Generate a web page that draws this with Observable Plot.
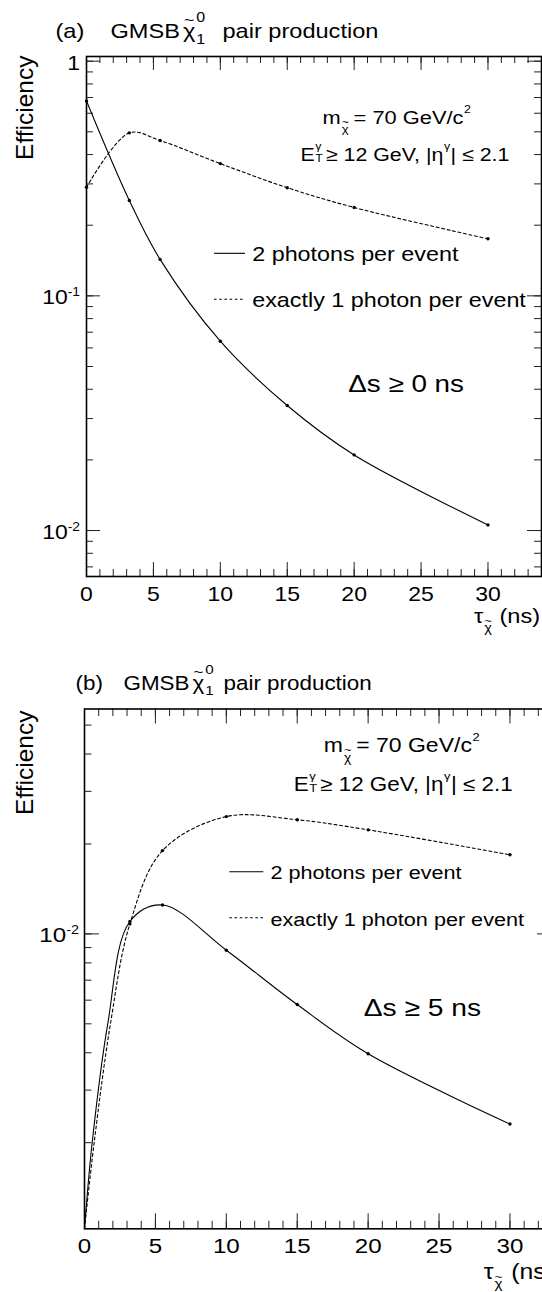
<!DOCTYPE html>
<html><head><meta charset="utf-8">
<script src="https://cdn.jsdelivr.net/npm/d3@7"></script>
<script src="https://cdn.jsdelivr.net/npm/@observablehq/plot@0.6"></script>
<style>
html,body{margin:0;padding:0;background:#fff;overflow:hidden;}
#wrap{width:542px;overflow:hidden;}
#wrap svg{display:block;max-width:none !important;}
</style></head><body><div id="wrap"></div>
<script>
// ---- data ----
const tau = [0, 3.2, 5.5, 10, 15, 20, 30];               // neutralino lifetime (ns)
const twoPhotonA = [0.677, 0.255, 0.143, 0.0641, 0.0341, 0.0210, 0.01057];
const onePhotonA = [0.290, 0.495, 0.459, 0.366, 0.289, 0.238, 0.175];
const twoPhotonB = [0.00103, 0.0110, 0.0125, 0.00882, 0.00580, 0.00397, 0.00231];
const onePhotonB = [0.00103, 0.0108, 0.0190, 0.0247, 0.0241, 0.0223, 0.0184];
// points read along the steep rise of the (b) curves near tau = 0 (no markers there)
const tauRiseTwoB = [0.54, 1.64];
const effRiseTwoB = [0.002, 0.005];
const tauRiseOneB = [0.68, 1.83];
const effRiseOneB = [0.002, 0.005];
const xMajorTicks = [0, 5, 10, 15, 20, 25, 30];
const xTickLabels = ["0", "5", "10", "15", "20", "25", "30"];
const yMajorTicks = [1, 0.1, 0.01];
const yTickBase = ["1", "10", "10"];
const yTickExp = ["", "-1", "-2"];
const legendLabels = ["2 photons per event", "exactly 1 photon per event"];

const FONT = '"Liberation Sans", Arial, Helvetica, sans-serif';
const S = 1.15; // horizontal stretch of the reference's lettering
const ctx = document.createElement("canvas").getContext("2d");
function tw(t, fs) { ctx.font = `${fs}px ${FONT}`; return ctx.measureText(t).width; }

function textAt(P, x, baseline, t, fs, anchor = "start", extra = {}) {
  return Plot.text([t], {text: d => d, frameAnchor: "top-left", dx: x - P.ml, dy: baseline - 0.71 * fs - P.mt,
    fontSize: fs, textAnchor: anchor, lineAnchor: "top", fill: "#000", ...extra});
}
function rich(P, x0, base, pieces) {
  const marks = [];
  let x = x0, prev = null;
  for (const p of pieces) {
    const lead = p.t.match(/^ */)[0];
    const t = p.t.trim();
    const w = tw(t, p.fs) * S;
    if (p.over) {
      marks.push(textAt(P, prev.x + prev.w / 2 + (p.dx || 0), base + (p.dy || 0), t, p.fs, "middle"));
      continue;
    }
    let px = (p.x != null ? p.x : x) + tw(lead, p.fs) * S + (p.dx || 0);
    marks.push(textAt(P, px, base + (p.dy || 0), t, p.fs, "start"));
    prev = {x: px, w};
    if (!p.noAdv) x = px + w;
  }
  return marks;
}
const seg = (x1, x2, y, dash) => () => d3.create("svg:line")
  .attr("x1", x1).attr("x2", x2).attr("y1", y).attr("y2", y)
  .attr("stroke", "#000").attr("stroke-width", 1.1)
  .attr("stroke-dasharray", dash || null).node();

function panel(P) {
  const fw = P.width - P.ml - P.mr, fh = P.height - P.mt - P.mb;
  const [y0, y1] = P.yDomain;
  const xMinor = d3.range(0, P.xDomain[1] + 0.001, 1);
  const yMinor = [];
  for (let e = -4; e <= 0; e++) for (let k = 1; k < 10; k++) {
    const v = k * Math.pow(10, e);
    if (v >= y0 && v <= y1) yMinor.push(v);
  }
  const yMaj = yMajorTicks.map((v, i) => ({v, i})).filter(d => d.v >= y0 && d.v <= y1);
  const rows = vals => tau.map((t, i) => ({tau: t, eff: vals[i]}));
  const two = rows(P.two), one = rows(P.one);
  const withRise = (r, ts, es) => r.concat(ts.map((t, i) => ({tau: t, eff: es[i]}))).sort((a, b) => a.tau - b.tau);
  const twoCurve = withRise(two, P.riseTwo[0], P.riseTwo[1]);
  const oneCurve = withRise(one, P.riseOne[0], P.riseOne[1]);
  const marks = [
    // ticks (inside the frame, on all four sides)
    Plot.ruleX(xMinor, {x: d => d, insetTop: fh - P.minor, stroke: "#222", strokeWidth: 1}),
    Plot.ruleX(xMajorTicks, {x: d => d, insetTop: fh - P.major, stroke: "#222", strokeWidth: 1}),
    Plot.ruleX(xMinor, {x: d => d, insetBottom: fh - P.minor, stroke: "#222", strokeWidth: 1}),
    Plot.ruleX(xMajorTicks, {x: d => d, insetBottom: fh - P.major, stroke: "#222", strokeWidth: 1}),
    Plot.ruleY(yMinor, {y: d => d, insetRight: fw - P.minor, stroke: "#222", strokeWidth: 1}),
    Plot.ruleY(yMaj, {y: "v", insetRight: fw - P.major, stroke: "#222", strokeWidth: 1}),
    Plot.ruleY(yMinor, {y: d => d, insetLeft: fw - P.minor, stroke: "#222", strokeWidth: 1}),
    Plot.ruleY(yMaj, {y: "v", insetLeft: fw - P.major, stroke: "#222", strokeWidth: 1}),
    // curves
    Plot.line(twoCurve, {x: "tau", y: "eff", curve: "catmull-rom", stroke: "#000", strokeWidth: 1.1, clip: true}),
    Plot.line(oneCurve, {x: "tau", y: "eff", curve: "catmull-rom", stroke: "#000", strokeWidth: 1.1, strokeDasharray: "3,2.6", clip: true}),
    Plot.dot(two.filter(d => d.eff > y0 * 1.05), {x: "tau", y: "eff", r: 1.7, fill: "#000", stroke: null}),
    Plot.dot(one.filter(d => d.eff > y0 * 1.05), {x: "tau", y: "eff", r: 1.7, fill: "#000", stroke: null}),
    Plot.frame({stroke: "#000", strokeWidth: 1.6}),
    // x tick labels
    Plot.text(xMajorTicks, {x: d => d, text: (d, i) => xTickLabels[i], frameAnchor: "bottom",
      dy: P.xLabBase - 0.71 * P.tickFs, lineAnchor: "top", textAnchor: "middle", fontSize: P.tickFs, fill: "#000"}),
  ];
  // y tick labels (10 with superscript exponent)
  for (const d of yMaj) {
    const exp = yTickExp[d.i], base = yTickBase[d.i];
    const ew = exp ? tw(exp, P.expFs) * S : 0;
    marks.push(Plot.text([d.v], {y: d => d, text: () => base, frameAnchor: "left", dx: P.yLabRight - ew - P.ml,
      dy: (exp ? 8.3 : 9) - 0.71 * P.tickFs, lineAnchor: "top", textAnchor: "end", fontSize: P.tickFs, fill: "#000"}));
    if (exp) marks.push(Plot.text([d.v], {y: d => d, text: () => exp, frameAnchor: "left", dx: P.yLabRight - ew - P.ml,
      dy: 0 - 0.71 * P.expFs, lineAnchor: "top", textAnchor: "start", fontSize: P.expFs, fill: "#000"}));
  }
  // axis titles
  marks.push(Plot.text(["Efficiency"], {text: d => d, frameAnchor: "top-left", rotate: -90, textAnchor: "end",
    lineAnchor: "top", dx: 15 - P.ml, dy: P.yTitleTop - P.mt, fontSize: P.yTitleFs, fill: "#000"}));
  marks.push(...rich(P, P.xt.x, P.xt.base, [
    {t: "τ", fs: P.xt.fs},
    {t: "χ", fs: P.xt.fs * 0.62, dy: P.xt.fs * 0.45, dx: 1},
    {t: "~", fs: P.xt.fs * 0.55, over: true, dy: P.xt.fs * 0.12},
    {t: "(ns)", fs: P.xt.fs, x: P.xt.nsX}
  ]));
  // title
  const T = P.title;
  marks.push(...rich(P, T.x, T.base, [
    {t: T.tag, fs: T.fs},
    {t: "GMSB", fs: T.fs, x: T.gmsbX},
    {t: "χ", fs: T.fs, dx: 3},
    {t: "~", fs: T.fs * 0.75, over: true, dy: -T.fs * 0.62},
    {t: "0", fs: T.fs * 0.68, dy: -T.fs * 0.78, noAdv: true, dx: 1},
    {t: "1", fs: T.fs * 0.68, dy: T.fs * 0.3, dx: 1},
    {t: "pair production", fs: T.fs, x: T.pairX}
  ]));
  // m line
  const m = P.mline;
  marks.push(...rich(P, m.x, m.base, [
    {t: "m", fs: m.fs},
    {t: "χ", fs: m.fs * 0.6, dy: m.fs * 0.47, dx: 1},
    {t: "~", fs: m.fs * 0.55, over: true, dy: m.fs * 0.08},
    {t: "= 70 GeV/c", fs: m.fs, dx: 5},
    {t: "2", fs: m.fs * 0.56, dy: -m.fs * 0.58, dx: 0.5}
  ]));
  // cuts line
  const e = P.eline;
  marks.push(...rich(P, e.x, e.base, [
    {t: "E", fs: e.fs},
    {t: "γ", fs: e.fs * 0.58, dy: -e.fs * 0.55, noAdv: true, dx: 0.5},
    {t: "T", fs: e.fs * 0.58, dy: e.fs * 0.1, dx: 0.5},
    {t: "≥ 12 GeV, |η", fs: e.fs, dx: 3},
    {t: "γ", fs: e.fs * 0.58, dy: -e.fs * 0.55, dx: 0.5},
    {t: "| ≤ 2.1", fs: e.fs, dx: 0.5}
  ]));
  // legend
  const L = P.legend;
  marks.push(seg(L.x1, L.x2, L.y[0]), seg(L.x1, L.x2, L.y[1], "2.6,2.6"));
  marks.push(textAt(P, L.tx, L.base[0], legendLabels[0], L.fs));
  marks.push(textAt(P, L.tx, L.base[1], legendLabels[1], L.fs));
  // timing cut
  marks.push(textAt(P, P.ds.x, P.ds.base, P.ds.t, P.ds.fs));

  const svg = Plot.plot({
    width: P.width, height: P.height,
    marginTop: P.mt, marginBottom: P.mb, marginLeft: P.ml, marginRight: P.mr,
    x: {domain: P.xDomain, axis: null},
    y: {type: "log", domain: P.yDomain, axis: null},
    style: {fontFamily: FONT, background: "#fff", color: "#000"},
    marks
  });
  d3.select(svg).selectAll("text").each(function () {
    const t = this.getAttribute("transform") || "";
    if (!t.includes("rotate")) this.setAttribute("transform", t + ` scale(${S},1)`);
  });
  return svg;
}

const A = {
  width: 542, height: 646, ml: 86, mr: 1, mt: 56, mb: 70,
  xDomain: [0, 34], yDomain: [0.00637, 1.047], two: twoPhotonA, one: onePhotonA,
  riseTwo: [[], []], riseOne: [[], []],
  major: 14, minor: 7, tickFs: 20, expFs: 12, xLabBase: 24, yLabRight: 79.5,
  yTitleFs: 24.5, yTitleTop: 55,
  xt: {x: 473.5, base: 622, fs: 20.5, nsX: 499},
  title: {tag: "(a)", x: 55, base: 37, fs: 20.5, gmsbX: 110, pairX: 222},
  mline: {x: 322, base: 123.5, fs: 19},
  eline: {x: 300, base: 160, fs: 18.6},
  legend: {x1: 214, x2: 245, y: [253.3, 299.3], tx: 251.7, base: [260.7, 306.7], fs: 20.3},
  ds: {x: 347.7, base: 391.7, t: "Δs ≥ 0 ns", fs: 24.2}
};
const B = {
  width: 556, height: 646, ml: 84, mr: 4, mt: 62.5, mb: 63.7,
  xDomain: [0, 33], yDomain: [0.00103, 0.0566], two: twoPhotonB, one: onePhotonB,
  riseTwo: [tauRiseTwoB, effRiseTwoB], riseOne: [tauRiseOneB, effRiseOneB],
  major: 15, minor: 7.5, tickFs: 21, expFs: 12.5, xLabBase: 24, yLabRight: 78.5,
  yTitleFs: 24.5, yTitleTop: 64,
  xt: {x: 483.3, base: 632, fs: 21.5, nsX: 510.7},
  title: {tag: "(b)", x: 75, base: 43, fs: 19.5, gmsbX: 123, pairX: 223},
  mline: {x: 323.3, base: 105.7, fs: 20},
  eline: {x: 293.3, base: 144, fs: 19.5},
  legend: {x1: 229.3, x2: 263.3, y: [225.7, 271.7], tx: 270, base: [232.3, 279], fs: 18.8},
  ds: {x: 363.3, base: 369, t: "Δs ≥ 5 ns", fs: 24.5}
};
const wrap = document.getElementById("wrap");
wrap.appendChild(panel(A));
wrap.appendChild(panel(B));
</script>
</body></html>
